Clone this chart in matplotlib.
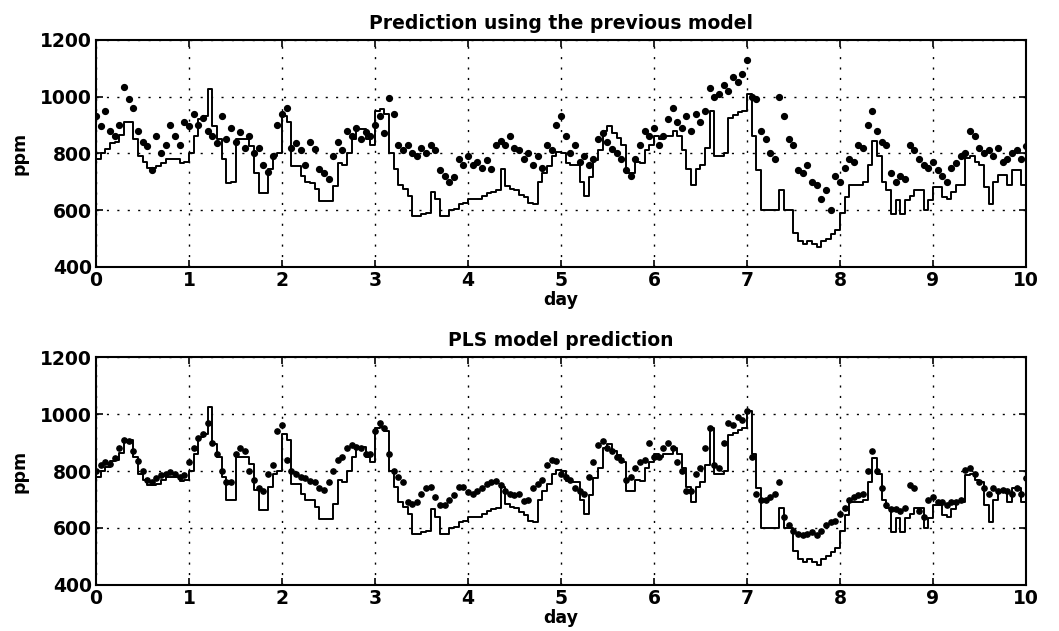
import numpy as np
import matplotlib
matplotlib.use('Agg')
import matplotlib.pyplot as plt

# sampling in days (every 0.05 day)
days = np.round(np.arange(0, 10.001, 0.05), 2)

# measured CO2 (ppm), same in both panels
measured = [780, 800, 815, 835, 840, 865, 910, 910, 850, 790,
            770, 750, 750, 755, 767, 780, 780, 780, 765, 770,
            800, 860, 920, 930, 1025, 895, 850, 780, 697, 700,
            850, 850, 850, 825, 732, 662, 662, 745, 790, 800,
            930, 910, 755, 755, 720, 700, 697, 675, 633, 633,
            633, 685, 767, 760, 800, 850, 885, 885, 850, 830,
            950, 955, 940, 800, 745, 690, 675, 650, 580, 580,
            585, 590, 665, 640, 580, 580, 600, 605, 620, 625,
            640, 640, 640, 650, 660, 665, 670, 745, 685, 675,
            670, 655, 645, 625, 620, 700, 730, 756, 790, 805,
            800, 765, 760, 760, 700, 650, 715, 775, 810, 880,
            895, 870, 855, 830, 730, 730, 770, 765, 810, 830,
            860, 850, 860, 860, 880, 860, 810, 745, 690, 745,
            760, 820, 950, 790, 790, 800, 925, 935, 945, 950,
            1010, 860, 740, 600, 600, 600, 600, 670, 600, 600,
            520, 490, 480, 490, 480, 470, 490, 500, 515, 530,
            590, 645, 690, 690, 690, 700, 760, 845, 790, 700,
            670, 585, 635, 585, 635, 650, 670, 670, 600, 635,
            680, 680, 645, 640, 665, 690, 690, 785, 790, 770,
            760, 680, 620, 700, 725, 725, 690, 740, 740, 690,
            760]

# prediction of the previous model (ppm)
prev_pred = [930, 895, 950, 880, 860, 900, 1035, 990, 960, 880,
             840, 825, 740, 860, 800, 830, 900, 860, 830, 910,
             895, 940, 900, 925, 880, 860, 835, 930, 850, 890,
             840, 875, 820, 860, 800, 820, 760, 735, 790, 900,
             940, 960, 820, 835, 810, 760, 840, 815, 745, 730,
             710, 790, 840, 810, 880, 860, 890, 850, 875, 860,
             900, 930, 870, 995, 940, 830, 810, 830, 800, 790,
             820, 800, 830, 810, 740, 720, 700, 715, 780, 760,
             790, 760, 770, 750, 775, 745, 830, 845, 830, 860,
             820, 810, 780, 800, 760, 790, 750, 830, 810, 900,
             930, 860, 800, 830, 770, 790, 760, 780, 850, 870,
             840, 815, 800, 780, 740, 720, 780, 830, 880, 860,
             890, 830, 860, 920, 960, 910, 890, 930, 880, 940,
             910, 950, 1030, 1000, 1010, 1040, 1020, 1070, 1050, 1080,
             1130, 1000, 990, 880, 850, 800, 780, 1000, 930, 850,
             830, 740, 730, 760, 700, 690, 640, 670, 600, 720,
             700, 750, 780, 770, 830, 820, 900, 950, 880, 840,
             830, 730, 700, 720, 710, 830, 810, 780, 760, 750,
             770, 740, 720, 700, 750, 765, 790, 800, 880, 860,
             820, 800, 810, 790, 820, 770, 780, 800, 810, 780,
             825]

# PLS model prediction (ppm)
pls_pred = [800, 820, 830, 825, 845, 880, 910, 905, 870, 835,
            800, 770, 760, 775, 785, 790, 795, 790, 780, 785,
            830, 880, 915, 930, 970, 900, 860, 800, 760, 760,
            860, 880, 870, 800, 770, 740, 730, 790, 820, 940,
            960, 840, 800, 790, 780, 775, 765, 760, 740, 735,
            760, 800, 840, 850, 880, 890, 885, 880, 860, 860,
            940, 970, 950, 860, 800, 780, 760, 690, 685, 690,
            720, 740, 745, 710, 680, 680, 700, 715, 745, 745,
            725, 720, 730, 740, 755, 760, 765, 750, 730, 720,
            715, 720, 695, 700, 740, 755, 770, 820, 840, 835,
            790, 780, 770, 740, 730, 720, 780, 830, 890, 905,
            880, 870, 850, 840, 770, 780, 810, 830, 840, 900,
            850, 850, 880, 900, 880, 830, 800, 730, 730, 790,
            810, 880, 950, 820, 810, 900, 970, 960, 990, 980,
            1010, 850, 720, 700, 700, 710, 720, 760, 640, 610,
            590, 580, 575, 580, 585, 575, 590, 610, 620, 625,
            650, 670, 700, 710, 715, 720, 800, 870, 800, 740,
            680, 665, 665, 660, 670, 750, 740, 660, 640, 700,
            710, 690, 690, 680, 690, 690, 700, 805, 810, 790,
            760, 740, 720, 740, 730, 735, 730, 720, 740, 720,
            775]

titles = ['Prediction using the previous model', 'PLS model prediction']
preds = [prev_pred, pls_pred]
msize = [4.2, 3.8]

plt.rcParams['font.family'] = ['DejaVu Sans']
plt.rcParams['font.weight'] = 'bold'

fig = plt.figure(figsize=(10.59, 6.31), dpi=100)
boxes = [[0.0907, 0.577, 0.878, 0.360], [0.0907, 0.073, 0.878, 0.361]]

for k in range(2):
    ax = fig.add_axes(boxes[k])
    ax.step(days, measured, where='post', color='black', linewidth=1.4)
    ax.plot(days, preds[k], linestyle='none', marker='o', markersize=msize[k],
            color='black')
    ax.set_xlim(0, 10)
    ax.set_ylim(400, 1200)
    ax.set_xticks(range(0, 11))
    ax.set_yticks([400, 600, 800, 1000, 1200])
    ax.grid(True, color='black', linestyle=(0, (1.5, 6)), linewidth=1.0)
    ax.tick_params(direction='in', length=5, width=1.2, top=True, right=True,
                   labelsize=13.5, pad=3)
    for lab in ax.get_xticklabels() + ax.get_yticklabels():
        lab.set_fontweight('bold')
    for s in ax.spines.values():
        s.set_linewidth(1.5)
    ax.set_title(titles[k], fontsize=13.5, fontweight='bold', pad=8)
    ax.set_xlabel('day', fontsize=12.5, fontweight='bold', labelpad=1)
    ax.set_ylabel('ppm', fontsize=12.5, fontweight='bold', labelpad=8)

fig.savefig('out.png', dpi=100)
